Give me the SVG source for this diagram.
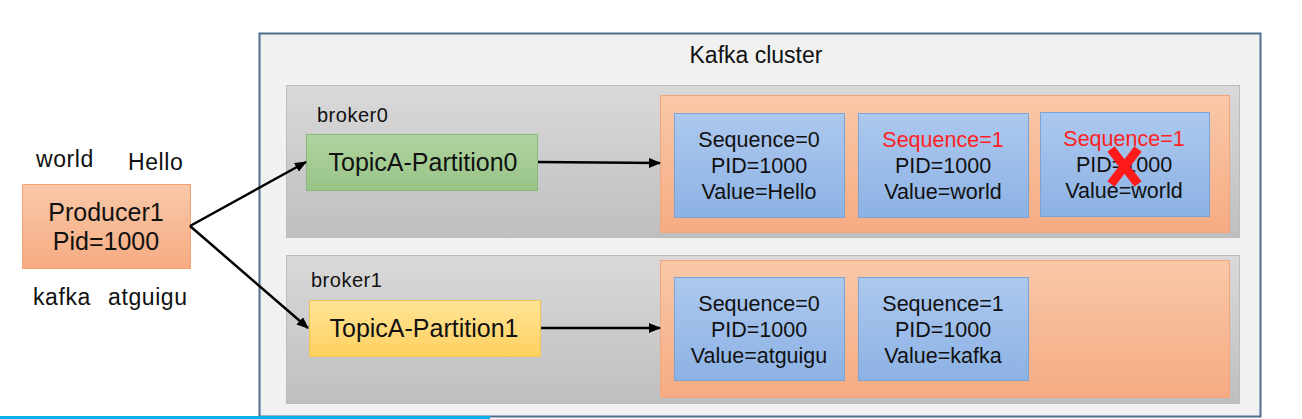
<svg xmlns="http://www.w3.org/2000/svg" width="1302" height="419" viewBox="0 0 1302 419">
<defs>
<linearGradient id="gGray" x1="0" y1="0" x2="0" y2="1"><stop offset="0" stop-color="#d9d9d9"/><stop offset="1" stop-color="#bfbfbf"/></linearGradient>
<linearGradient id="gOrange" x1="0" y1="0" x2="0" y2="1"><stop offset="0" stop-color="#f9c8a8"/><stop offset="1" stop-color="#f6ab82"/></linearGradient>
<linearGradient id="gBlue" x1="0" y1="0" x2="0" y2="1"><stop offset="0" stop-color="#adc8ee"/><stop offset="1" stop-color="#8cb2e4"/></linearGradient>
<linearGradient id="gGreen" x1="0" y1="0" x2="0" y2="1"><stop offset="0" stop-color="#b0d4a0"/><stop offset="1" stop-color="#98c487"/></linearGradient>
<linearGradient id="gYellow" x1="0" y1="0" x2="0" y2="1"><stop offset="0" stop-color="#ffe496"/><stop offset="1" stop-color="#ffd060"/></linearGradient>
<marker id="arr" markerWidth="12" markerHeight="10" refX="11" refY="5" orient="auto" markerUnits="userSpaceOnUse"><path d="M0,0 L12,5 L0,10 Z" fill="#000"/></marker>
</defs>
<style>
text{font-family:"Liberation Sans",Arial,sans-serif;fill:#111}
.msg{font-size:21.5px;text-anchor:middle}
.red{fill:#f22}
.lbl{font-size:23px;letter-spacing:0.6px}
.topic{font-size:25px;text-anchor:middle}
.conn{stroke:#000;stroke-width:2.5;fill:none}
</style>
<rect width="1302" height="419" fill="#ffffff"/>
<g id="cluster">
<rect x="259.5" y="33.5" width="1001" height="383" fill="#f1f1f1" stroke="#4f6e8e" stroke-width="2"/>
<text x="756" y="63" font-size="23" text-anchor="middle">Kafka cluster</text>
</g>
<g id="broker0">
<rect x="286.5" y="85.5" width="953" height="152" fill="url(#gGray)" stroke="#bcbcbc"/>
<text x="317" y="122" font-size="20" letter-spacing="0.5">broker0</text>
</g>
<g id="broker1">
<rect x="286.5" y="255.5" width="953" height="148" fill="url(#gGray)" stroke="#bcbcbc"/>
<text x="311" y="287" font-size="20" letter-spacing="0.5">broker1</text>
</g>
<g id="producer">
<rect x="22.5" y="184.5" width="168" height="84" fill="url(#gOrange)" stroke="#f2a273"/>
<text class="topic" x="106" y="221">Producer1</text>
<text class="topic" x="106" y="250">Pid=1000</text>
</g>
<g id="labels">
<text class="lbl" x="36" y="167">world</text>
<text class="lbl" x="128" y="170">Hello</text>
<text class="lbl" x="33" y="305">kafka</text>
<text class="lbl" x="108" y="305">atguigu</text>
</g>
<g id="partition0">
<rect x="306.5" y="134.5" width="231" height="56" fill="url(#gGreen)" stroke="#8bb878"/>
<text class="topic" x="423" y="171">TopicA-Partition0</text>
</g>
<g id="partition1">
<rect x="309.5" y="300.5" width="231" height="56" fill="url(#gYellow)" stroke="#efc256"/>
<text class="topic" x="424" y="337">TopicA-Partition1</text>
</g>
<g id="log0">
<rect x="660.5" y="95.5" width="569" height="137" fill="url(#gOrange)" stroke="#f3a67c"/>
</g>
<g id="log1">
<rect x="660.5" y="260.5" width="569" height="137" fill="url(#gOrange)" stroke="#f3a67c"/>
</g>
<g id="msg0-0">
<rect x="674.5" y="113.5" width="170" height="104" fill="url(#gBlue)" stroke="#7aa3d6"/>
<text class="msg" x="759" y="147">Sequence=0</text>
<text class="msg" x="759" y="173">PID=1000</text>
<text class="msg" x="759" y="199">Value=Hello</text>
</g>
<g id="msg0-1">
<rect x="858.5" y="113.5" width="170" height="104" fill="url(#gBlue)" stroke="#7aa3d6"/>
<text class="msg red" x="943" y="147">Sequence=1</text>
<text class="msg" x="943" y="173">PID=1000</text>
<text class="msg" x="943" y="199">Value=world</text>
</g>
<g id="msg0-2">
<rect x="1040.5" y="112.5" width="169" height="104" fill="url(#gBlue)" stroke="#7aa3d6"/>
<text class="msg red" x="1124" y="146">Sequence=1</text>
<text class="msg" x="1124" y="172">PID=1000</text>
<text class="msg" x="1124" y="198">Value=world</text>
<path d="M1111,149 L1138,184 M1138,149 L1111,184" stroke="#ff1a1a" stroke-width="9" stroke-linecap="butt"/>
</g>
<g id="msg1-0">
<rect x="674.5" y="277.5" width="170" height="103" fill="url(#gBlue)" stroke="#7aa3d6"/>
<text class="msg" x="759" y="311">Sequence=0</text>
<text class="msg" x="759" y="337">PID=1000</text>
<text class="msg" x="759" y="363">Value=atguigu</text>
</g>
<g id="msg1-1">
<rect x="858.5" y="277.5" width="170" height="103" fill="url(#gBlue)" stroke="#7aa3d6"/>
<text class="msg" x="943" y="311">Sequence=1</text>
<text class="msg" x="943" y="337">PID=1000</text>
<text class="msg" x="943" y="363">Value=kafka</text>
</g>
<g id="connectors">
<line class="conn" x1="190" y1="226" x2="306" y2="162" marker-end="url(#arr)"/>
<line class="conn" x1="190" y1="226" x2="308" y2="328" marker-end="url(#arr)"/>
<line class="conn" x1="538" y1="162" x2="660" y2="163" marker-end="url(#arr)"/>
<line class="conn" x1="541" y1="328" x2="660" y2="328" marker-end="url(#arr)"/>
</g>
<line x1="0" y1="417.5" x2="490" y2="417.5" stroke="#00b0f0" stroke-width="3"/>
</svg>
